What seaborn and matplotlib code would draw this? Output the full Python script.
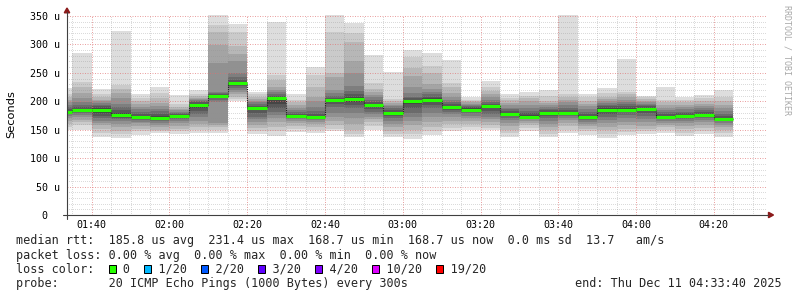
import numpy as np
import matplotlib
matplotlib.use("Agg")
import matplotlib.pyplot as plt
import seaborn as sns
from matplotlib.lines import Line2D
from matplotlib.patches import Rectangle, Polygon

# ---------------- data ----------------
bar_starts = ["01:30", "01:35", "01:40", "01:45", "01:50", "01:55", "02:00", "02:05",
              "02:10", "02:15", "02:20", "02:25", "02:30", "02:35", "02:40", "02:45",
              "02:50", "02:55", "03:00", "03:05", "03:10", "03:15", "03:20", "03:25",
              "03:30", "03:35", "03:40", "03:45", "03:50", "03:55", "04:00", "04:05",
              "04:10", "04:15", "04:20"]

median_rtt = [181, 185, 184, 176.5, 172.4, 170.6, 173.5, 193.5, 208.5, 231.4,
              188, 205, 174, 172.4, 202, 204, 193.5, 179.4, 200, 202.3,
              189.4, 185.3, 191, 177.6, 173, 178.8, 180, 173, 185.3, 185.3,
              187, 173, 174, 176, 168.7]

# 20 sorted ping RTTs (us) per 5-minute step
smoke_rtts = [
    [150, 155, 160, 165, 170, 174, 177, 179, 180.5, 181, 181.5, 183, 186, 190, 194, 198, 203, 208, 213, 223],
    [150, 158, 163, 167, 172, 176, 179, 181, 183, 184.5, 185.5, 187, 190, 194, 199, 205, 214, 225, 234, 285],
    [138, 145, 152, 158, 162, 166, 170, 175, 180, 183, 185, 188, 191, 194, 197, 200, 203, 207, 213, 222],
    [136, 142, 148, 155, 160, 165, 168, 171, 174, 176, 177, 180, 184, 190, 196, 205, 214, 222, 229, 324],
    [141, 147, 152, 157, 161, 164, 167, 169, 171, 172, 173, 175, 178, 182, 186, 190, 195, 200, 205, 212],
    [144, 147, 150, 154, 158, 162, 165, 167, 169, 170.5, 171, 174, 178, 183, 187, 192, 197, 205, 215, 226],
    [143, 147, 152, 157, 162, 166, 169, 171, 172.5, 173, 174, 176, 178, 180, 182, 184, 186, 190, 195, 211],
    [144, 150, 155, 160, 166, 172, 178, 183, 188, 192, 194, 196, 198, 200, 202, 204, 206, 209, 212, 220],
    [144, 150, 155, 158, 161, 198, 203, 205, 206.5, 207.5, 209, 210, 212, 214, 216, 268, 299, 322, 334, 352],
    [200.5, 204, 208, 212, 216, 220, 224, 227, 229.5, 231, 232, 234, 237, 242, 250, 271, 284, 298, 321, 336],
    [142, 148, 153, 158, 163, 168, 173, 180, 185, 187.5, 188.5, 190, 192, 195, 198, 201, 204, 208, 212, 217],
    [139, 148, 155, 163, 170, 176, 182, 189, 196, 203, 206, 208, 210, 213, 216, 220, 226, 237, 246, 340],
    [146, 152, 157, 162, 166, 169, 171, 172.5, 173.5, 174, 174.5, 176, 178, 181, 184, 188, 193, 198, 203, 212],
    [144, 150, 155, 160, 164, 167, 169, 170.5, 171.5, 172, 173, 175, 178, 183, 190, 200, 208, 226, 246, 260],
    [147, 152, 158, 165, 172, 180, 190, 196, 199, 201.5, 202.5, 204, 206, 209, 214, 220, 243, 249, 322, 352],
    [138, 142, 150, 160, 170, 180, 188, 194, 199, 203, 205, 208, 212, 218, 227, 250, 271, 305, 320, 338],
    [150, 157, 163, 168, 172, 177, 182, 187, 190, 193, 194, 196, 199, 203, 207, 211, 216, 222, 232, 281],
    [138, 143, 148, 154, 160, 166, 171, 175, 178, 179, 180, 182, 185, 188, 191, 194, 197, 200, 204, 251],
    [134, 142, 150, 158, 165, 172, 179, 188, 195, 199, 201, 203, 206, 208, 215, 226, 245, 258, 278, 291],
    [141, 147, 155, 163, 172, 180, 188, 194, 199, 202, 203, 205, 208, 212, 216, 222, 230, 249, 262, 285],
    [147, 153, 160, 166, 172, 177, 181, 185, 188, 189, 190, 192, 195, 199, 203, 208, 215, 225, 232, 273],
    [149.5, 155, 160, 165, 170, 175, 179, 182, 184, 185, 186, 188, 190, 192, 194, 196, 198, 200, 203, 208],
    [150, 153, 158, 163, 168, 173, 178, 183, 188, 190.5, 191.5, 193, 196, 199, 203, 207, 212, 218, 226, 236],
    [138, 144, 150, 156, 162, 167, 171, 174, 176, 177.5, 178, 180, 183, 186, 189, 193, 197, 202, 206, 212],
    [148, 153, 158, 162, 166, 169, 171, 172, 172.5, 173, 174, 176, 179, 183, 188, 194, 200, 205, 210, 216],
    [137, 143, 149, 155, 160, 165, 170, 174, 177, 178.5, 179, 181, 184, 187, 190, 194, 197, 201, 210, 220],
    [145, 150, 156, 162, 167, 171, 175, 178, 179.5, 180, 180.5, 182, 185, 189, 193, 198, 203, 208, 213, 352],
    [141, 147, 152, 156, 160, 164, 167, 170, 172, 173, 173.5, 175, 178, 182, 186, 191, 196, 201, 207, 212],
    [135, 142, 149, 155, 161, 167, 173, 178, 182, 185, 186, 188, 191, 194, 197, 200, 204, 208, 214, 223],
    [141, 146, 152, 158, 164, 170, 176, 181, 184, 185, 186, 188, 191, 195, 199, 203, 207, 212, 217, 274],
    [142.5, 147, 152, 157, 163, 169, 175, 180, 184, 186.5, 187.5, 189, 191, 193, 195, 198, 201, 204, 207, 210],
    [144, 149, 154, 158, 162, 166, 169, 171, 172.5, 173, 173.5, 175, 178, 181, 185, 189, 194, 199, 203, 225],
    [139, 145, 151, 156, 161, 165, 169, 172, 173.5, 174, 174.5, 176, 179, 182, 186, 190, 194, 198, 203, 208],
    [142.5, 148, 153, 158, 163, 167, 171, 174, 175.5, 176, 176.5, 178, 181, 184, 188, 192, 196, 200, 205, 211],
    [138, 144, 149, 154, 158, 162, 165, 167, 168, 168.5, 169, 171, 174, 178, 183, 188, 194, 200, 208, 220],
]

x_tick_labels = ["01:40", "02:00", "02:20", "02:40", "03:00", "03:20", "03:40", "04:00", "04:20"]
y_tick_values = [0, 50, 100, 150, 200, 250, 300, 350]
y_tick_labels = ["0  ", "50 u", "100 u", "150 u", "200 u", "250 u", "300 u", "350 u"]

loss_labels = ["0", "1/20", "2/20", "3/20", "4/20", "10/20", "19/20"]
loss_colors = ["#26ff00", "#00b8ff", "#0059ff", "#5e00ff", "#7e00ff", "#dd00ff", "#ff0000"]

legend_rtt = "median rtt:  185.8 us avg  231.4 us max  168.7 us min  168.7 us now  0.0 ms sd  13.7   am/s"
legend_loss = "packet loss: 0.00 % avg  0.00 % max  0.00 % min  0.00 % now"
legend_probe = "probe:       20 ICMP Echo Pings (1000 Bytes) every 300s"
legend_end = "end: Thu Dec 11 04:33:40 2025"
view_start, view_end = "01:33:40", "04:33:40"
step_minutes = 5

# ---------------- helpers ----------------
W, H = 797, 297


def to_min(s):
    parts = [int(p) for p in s.split(":")]
    return parts[0] * 60 + parts[1] + (parts[2] / 60 if len(parts) > 2 else 0)


def fx(x):
    return x / W


def fy(y):
    return 1 - y / H


sns.set_style("white")
plt.rcParams["font.family"] = ["DejaVu Sans Mono", "DejaVu Sans"]

fig = plt.figure(figsize=(W / 100, H / 100), dpi=100)
fig.patch.set_facecolor("white")
ax = fig.add_axes([fx(67), fy(215), 700 / W, 200 / H])

starts = np.array([to_min(s) for s in bar_starts])
P = np.array(smoke_rtts)
med = np.array(median_rtt)

# smoke layers: outer (light) to inner (dark)
n_pairs = P.shape[1] // 2
for k in range(n_pairs):
    lvl = int(190 / n_pairs * (n_pairs - 1 - k)) + 50
    col = "#%02x%02x%02x" % (lvl, lvl, lvl)
    lo = P[:, k]
    hi = P[:, -1 - k]
    ax.bar(starts, hi - lo, bottom=lo, width=step_minutes, align="edge",
           color=col, linewidth=0, zorder=1, antialiased=False)

# thin dark step line through medians
step_x = np.append(starts, starts[-1] + step_minutes)
step_y = np.append(med, med[-1])
sns.lineplot(x=step_x, y=step_y, drawstyle="steps-post", color="#202020",
             linewidth=0.8, linestyle=(0, (1, 1)), ax=ax, zorder=3, legend=False)

# green median bars (0 loss)
ax.hlines(med, starts, starts + step_minutes, colors=loss_colors[0],
          linewidth=2.2, zorder=5, capstyle="butt")

# axes limits / ticks
ax.set_xlim(to_min(view_start), to_min(view_end))
ax.set_ylim(0, 350 * 200 / 199)
ax.set_xticks([to_min(t) for t in x_tick_labels])
ax.set_xticklabels(x_tick_labels)
ax.set_xticks(np.arange(95, 271, 5), minor=True)
ax.set_yticks(y_tick_values)
ax.set_yticklabels(y_tick_labels)
ax.set_yticks(np.arange(10, 350, 10), minor=True)

for sp in ax.spines.values():
    sp.set_visible(False)

ax.set_axisbelow(False)
ax.grid(which="minor", color="#909090", alpha=0.32, linewidth=0.72,
        linestyle=(0, (1, 1.6)), antialiased=False)
ax.grid(which="major", color="#e07070", alpha=0.65, linewidth=0.72,
        linestyle=(0, (1, 1.5)), antialiased=True)

ax.tick_params(axis="y", which="both", length=1.5, width=0.7, color="#404040",
               labelsize=7.2, pad=3.8, labelcolor="#000000")
ax.tick_params(axis="x", which="both", length=2.0, width=0.7, color="#404040",
               labelsize=7.2, pad=1.6, labelcolor="#000000")
ax.set_xlabel("")
ax.set_ylabel("")

# axis lines with arrows
axis_col = "#404040"
arrow_col = "#8b1a1a"
fig.add_artist(Line2D([fx(67), fx(67)], [fy(219), fy(12)], color=axis_col, lw=0.8))
fig.add_artist(Line2D([fx(63), fx(768)], [fy(215), fy(215)], color=axis_col, lw=0.8))
fig.add_artist(Polygon([[fx(67), fy(8)], [fx(64.3), fy(12.8)], [fx(69.7), fy(12.8)]],
                       closed=True, color=arrow_col, transform=fig.transFigure))
fig.add_artist(Polygon([[fx(773.5), fy(215)], [fx(768.5), fy(212.3)], [fx(768.5), fy(217.7)]],
                       closed=True, color=arrow_col, transform=fig.transFigure))

# y label and watermark
fig.text(fx(11), fy(114), "Seconds", rotation=90, ha="center", va="center",
         fontsize=8.2, family="DejaVu Sans", color="#000000")
fig.text(fx(787.5), fy(60), "RRDTOOL / TOBI OETIKER", rotation=270, ha="center",
         va="center", fontsize=6.0, color="#a8a8a8")

# legend text
fs = 8.5
char_w = fs * 100 / 72 * 0.6021
fig.text(fx(16), fy(244.3), legend_rtt, fontsize=fs, va="baseline", ha="left")
fig.text(fx(16), fy(258.6), legend_loss, fontsize=fs, va="baseline", ha="left")

col = 13
row3 = list("loss color:" + " " * 80)
sq_cols = []
for lab in loss_labels:
    sq_cols.append(col)
    for i, ch in enumerate(lab):
        row3[col + 2 + i] = ch
    col += 2 + len(lab) + 2
fig.text(fx(16), fy(272.8), "".join(row3).rstrip(), fontsize=fs, va="baseline", ha="left")
for c, color in zip(sq_cols, loss_colors):
    x0 = 16 + c * char_w + 0.3
    fig.add_artist(Rectangle((fx(x0), fy(273.2)), 7.0 / W, 7.8 / H, transform=fig.transFigure,
                             facecolor=color, edgecolor="#000000", linewidth=0.72))

fig.text(fx(16), fy(287.1), legend_probe, fontsize=fs, va="baseline", ha="left")
fig.text(fx(782), fy(287.1), legend_end, fontsize=fs, va="baseline", ha="right")

fig.savefig("out.png", dpi=100, facecolor="white")
